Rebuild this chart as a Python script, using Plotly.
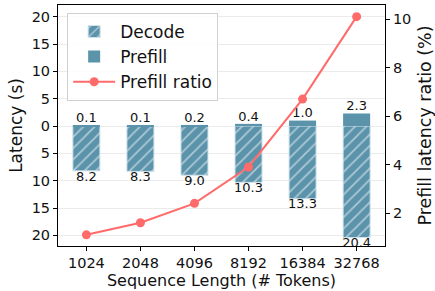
import plotly.graph_objects as go

seq_labels = ["1024", "2048", "4096", "8192", "16384", "32768"]
decode = [8.2, 8.3, 9.0, 10.3, 13.3, 20.4]
prefill = [0.1, 0.1, 0.2, 0.4, 1.0, 2.3]
ratio = [1.1, 1.6, 2.4, 3.9, 6.7, 10.1]

left_tickvals = [20, 15, 10, 5, 0, -5, -10, -15, -20]
left_ticktext = ["20", "15", "10", "5", "0", "5", "10", "15", "20"]
right_ticks = [2, 4, 6, 8, 10]

BAR = "#5b93ab"
LINE = "#ff6b6b"
FONT = "DejaVu Sans"

x = list(range(len(seq_labels)))
neg_decode = [-v for v in decode]

fig = go.Figure()
fig.add_trace(go.Bar(
    x=x, y=neg_decode, name="Decode", width=0.5,
    marker=dict(color=BAR, line=dict(color="#cfe2ec", width=1),
                pattern=dict(shape="/", fgcolor="white", bgcolor=BAR, size=8, solidity=0.22)),
))
fig.add_trace(go.Bar(
    x=x, y=prefill, name="Prefill", width=0.5,
    marker=dict(color=BAR, line=dict(color=BAR, width=0)),
))
fig.add_trace(go.Scatter(
    x=x, y=prefill, mode="text", text=[f"{v:.1f}" for v in prefill],
    textposition="top center", textfont=dict(size=13, color="#111", family=FONT),
    showlegend=False, hoverinfo="skip", cliponaxis=True,
))
fig.add_trace(go.Scatter(
    x=x, y=neg_decode, mode="text", text=[f"{v:.1f}" for v in decode],
    textposition="bottom center", textfont=dict(size=13, color="#111", family=FONT),
    showlegend=False, hoverinfo="skip", cliponaxis=True,
))
fig.add_trace(go.Scatter(
    x=x, y=ratio, name="Prefill ratio", yaxis="y2", mode="lines+markers",
    line=dict(color=LINE, width=2), marker=dict(color=LINE, size=9),
))

fig.update_layout(
    width=435, height=291,
    margin=dict(l=58, r=50, t=5, b=45, autoexpand=False),
    paper_bgcolor="white", plot_bgcolor="white",
    font=dict(family=FONT, size=14, color="#111"),
    barmode="overlay",
    showlegend=True,
    legend=dict(x=0.028, y=0.967, xanchor="left", yanchor="top",
                bgcolor="rgba(255,255,255,0.85)", bordercolor="#d0d0d0", borderwidth=1,
                font=dict(size=17, family=FONT), tracegroupgap=0, itemwidth=42),
    xaxis=dict(
        range=[-0.525, 5.525], tickvals=x, ticktext=seq_labels, automargin=False,
        showline=True, linecolor="black", linewidth=1, mirror=True,
        ticks="outside", ticklen=4, tickcolor="black", showgrid=False, zeroline=False,
        title=dict(text="Sequence Length (# Tokens)", font=dict(size=16), standoff=2),
        tickfont=dict(size=14.5),
    ),
    yaxis=dict(
        range=[-21.95, 22.15], tickvals=left_tickvals, ticktext=left_ticktext, automargin=False,
        showline=True, linecolor="black", linewidth=1, mirror=True,
        ticks="outside", ticklen=4, tickcolor="black",
        showgrid=True, gridcolor="#ebebeb", gridwidth=1, zeroline=False,
        title=dict(text="Latency (s)", font=dict(size=17), standoff=4),
        tickfont=dict(size=14.5),
    ),
    yaxis2=dict(
        overlaying="y", side="right", range=[0.64, 10.58], tickvals=right_ticks, automargin=False,
        showline=True, linecolor="black", linewidth=1,
        ticks="outside", ticklen=4, tickcolor="black", showgrid=False, zeroline=False,
        title=dict(text="Prefill latency ratio (%)", font=dict(size=17.5), standoff=8),
        tickfont=dict(size=14.5),
    ),
)

fig.write_html(
    "out.html",
    config={"displayModeBar": False},
    post_script="document.body.style.margin='0';document.body.style.overflow='hidden';",
)
